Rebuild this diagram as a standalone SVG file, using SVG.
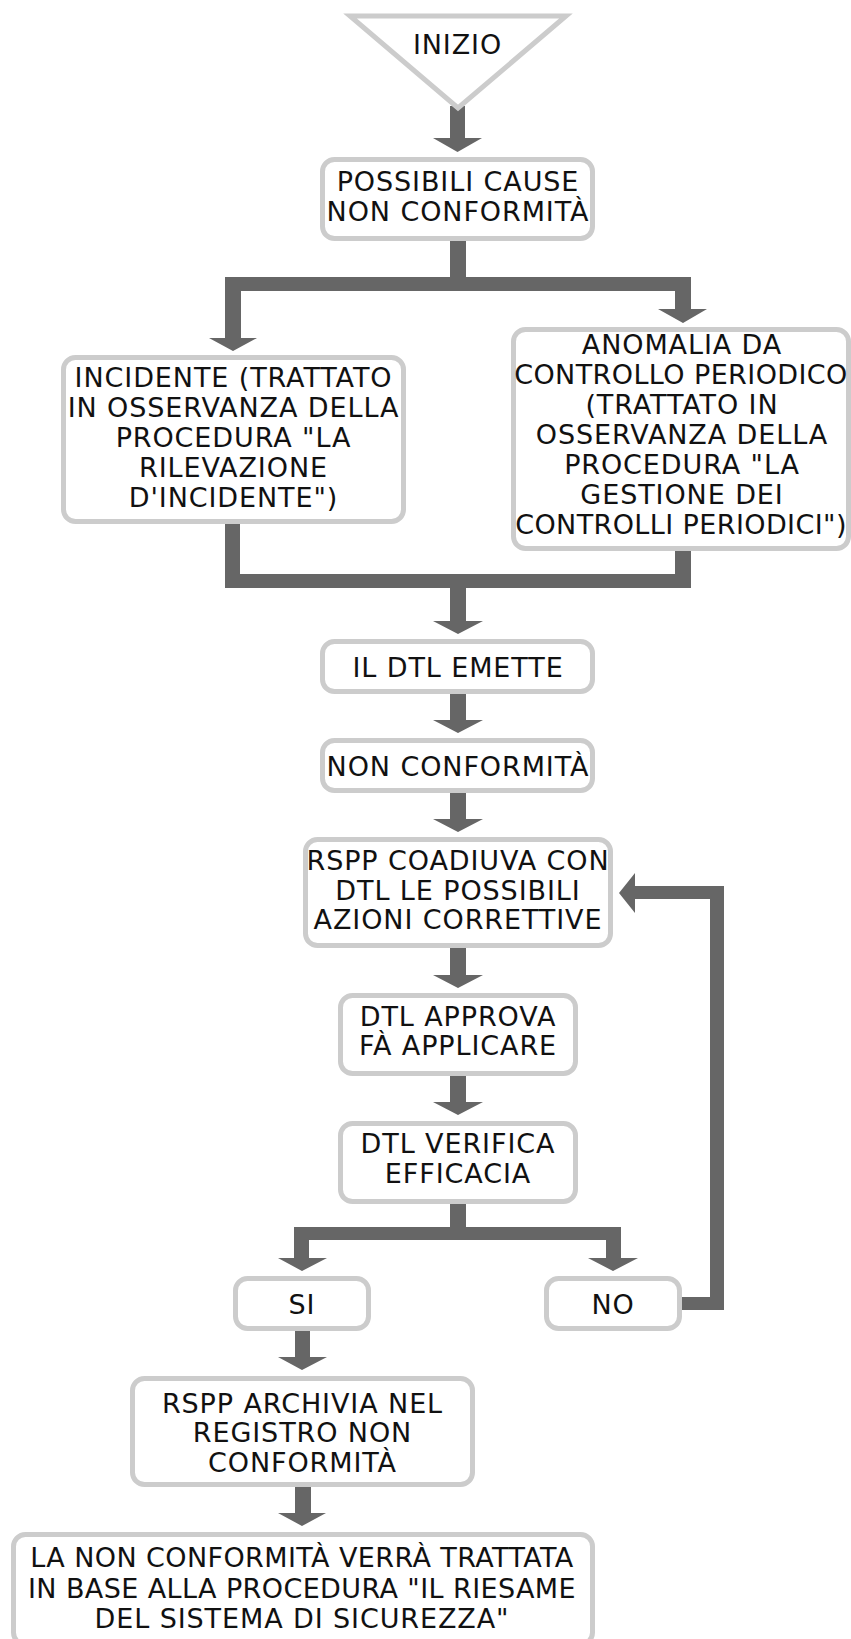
<svg xmlns="http://www.w3.org/2000/svg" width="851" height="1639" viewBox="0 0 851 1639">
  <style>
    .box { fill: #ffffff; stroke: #cccccc; stroke-width: 5; }
    .lbl { font-family: "DejaVu Sans", Verdana, sans-serif; font-size: 27px; letter-spacing: 0.9px; fill: #111111; text-anchor: middle; }
    .tight { letter-spacing: 0.4px; }
    .conn { fill: #666666; stroke: none; }
  </style>
  <rect width="851" height="1639" fill="#ffffff"/>

  <!-- connectors: thick grey bars with flat triangular heads -->
  <g id="connectors">
    <!-- start -> causes -->
    <path class="conn" d="M450,106 H465 V138 H482 L457.5,152 L433,138 H450 Z"/>
    <!-- causes -> split into the two sources -->
    <path class="conn" d="M450,240 H466 V277 H691 V309 H707 L683,323 L658,309 H675 V291 H241 V338 H257 L233,351 L209,338 H225 V277 H450 Z"/>
    <!-- both sources merge -> DTL emits -->
    <path class="conn" d="M225,522 H240 V574 H675 V549 H691 V588 H466 V621 H483 L458,634 L433,621 H450 V588 H225 Z"/>
    <!-- straight vertical steps -->
    <path class="conn" d="M450,693 H466 V720 H483 L458,733 L433,720 H450 Z"/>
    <path class="conn" d="M450,792 H466 V819 H483 L458,832 L433,819 H450 Z"/>
    <path class="conn" d="M450,947 H466 V975 H483 L458,988 L433,975 H450 Z"/>
    <path class="conn" d="M450,1075 H466 V1102 H483 L458,1115 L433,1102 H450 Z"/>
    <!-- verification -> SI / NO -->
    <path class="conn" d="M450,1203 H466 V1227 H621 V1258 H638 L613,1271 L588,1258 H606 V1240 H309 V1258 H327 L302,1271 L278,1258 H294 V1227 H450 Z"/>
    <!-- SI -> archive -->
    <path class="conn" d="M295,1330 H310 V1357 H327 L302,1370 L278,1357 H295 Z"/>
    <!-- archive -> review -->
    <path class="conn" d="M295,1486 H311 V1513 H326 L302,1526 L278,1513 H295 Z"/>
    <!-- NO -> back to corrective actions -->
    <path class="conn" d="M681,1297 H710 V899 H635 V913 L619,893 L635,873 V886 H724 V1310 H681 Z"/>
  </g>

  <g id="start">
    <polygon class="box" points="350,16 566,16 458,108" stroke-linejoin="miter"/>
    <text class="lbl" x="457.5" y="54">INIZIO</text>
  </g>

  <g id="causes">
    <rect class="box" x="322.5" y="159.5" width="270" height="79" rx="12"/>
    <text class="lbl" x="458" y="191">POSSIBILI CAUSE</text>
    <text class="lbl" x="458" y="221">NON CONFORMITÀ</text>
  </g>

  <g id="incident">
    <rect class="box" x="63.5" y="357.5" width="340" height="164" rx="12"/>
    <text class="lbl" x="233.5" y="387">INCIDENTE (TRATTATO</text>
    <text class="lbl" x="233.5" y="417">IN OSSERVANZA DELLA</text>
    <text class="lbl" x="233.5" y="447">PROCEDURA "LA</text>
    <text class="lbl" x="233.5" y="477">RILEVAZIONE</text>
    <text class="lbl" x="233.5" y="507">D'INCIDENTE")</text>
  </g>

  <g id="anomaly">
    <rect class="box" x="513.5" y="329.5" width="335" height="219" rx="12"/>
    <text class="lbl" x="682" y="354">ANOMALIA DA</text>
    <text class="lbl tight" x="681" y="384">CONTROLLO PERIODICO</text>
    <text class="lbl" x="682" y="414">(TRATTATO IN</text>
    <text class="lbl" x="682" y="444">OSSERVANZA DELLA</text>
    <text class="lbl" x="682" y="474">PROCEDURA "LA</text>
    <text class="lbl" x="682" y="504">GESTIONE DEI</text>
    <text class="lbl tight" x="681" y="534">CONTROLLI PERIODICI")</text>
  </g>

  <g id="dtl-emits">
    <rect class="box" x="322.5" y="641.5" width="270" height="50" rx="12"/>
    <text class="lbl" x="458" y="677">IL DTL EMETTE</text>
  </g>

  <g id="nonconformity">
    <rect class="box" x="322.5" y="740.5" width="270" height="50" rx="12"/>
    <text class="lbl" x="458" y="776">NON CONFORMITÀ</text>
  </g>

  <g id="corrective">
    <rect class="box" x="305.5" y="839.5" width="305" height="106" rx="12"/>
    <text class="lbl" x="458" y="870">RSPP COADIUVA CON</text>
    <text class="lbl" x="458" y="899.5">DTL LE POSSIBILI</text>
    <text class="lbl" x="458" y="929">AZIONI CORRETTIVE</text>
  </g>

  <g id="approve">
    <rect class="box" x="340.5" y="995.5" width="235" height="78" rx="12"/>
    <text class="lbl" x="458" y="1026">DTL APPROVA</text>
    <text class="lbl" x="458" y="1055">FÀ APPLICARE</text>
  </g>

  <g id="verify">
    <rect class="box" x="340.5" y="1123.5" width="235" height="78" rx="12"/>
    <text class="lbl" x="458" y="1153">DTL VERIFICA</text>
    <text class="lbl" x="458" y="1183">EFFICACIA</text>
  </g>

  <g id="yes">
    <rect class="box" x="235.5" y="1278.5" width="133" height="50" rx="12"/>
    <text class="lbl" x="302" y="1314">SI</text>
  </g>

  <g id="no">
    <rect class="box" x="546.5" y="1278.5" width="133" height="50" rx="12"/>
    <text class="lbl" x="613" y="1314">NO</text>
  </g>

  <g id="archive">
    <rect class="box" x="132.5" y="1378.5" width="340" height="106" rx="12"/>
    <text class="lbl" x="302.5" y="1413">RSPP ARCHIVIA NEL</text>
    <text class="lbl" x="302.5" y="1442">REGISTRO NON</text>
    <text class="lbl" x="302.5" y="1472">CONFORMITÀ</text>
  </g>

  <g id="review">
    <rect class="box" x="13.5" y="1534.5" width="579" height="110" rx="12"/>
    <text class="lbl tight" x="302" y="1567">LA NON CONFORMITÀ VERRÀ TRATTATA</text>
    <text class="lbl tight" x="302" y="1598">IN BASE ALLA PROCEDURA "IL RIESAME</text>
    <text class="lbl" x="302" y="1628">DEL SISTEMA DI SICUREZZA"</text>
  </g>
</svg>
